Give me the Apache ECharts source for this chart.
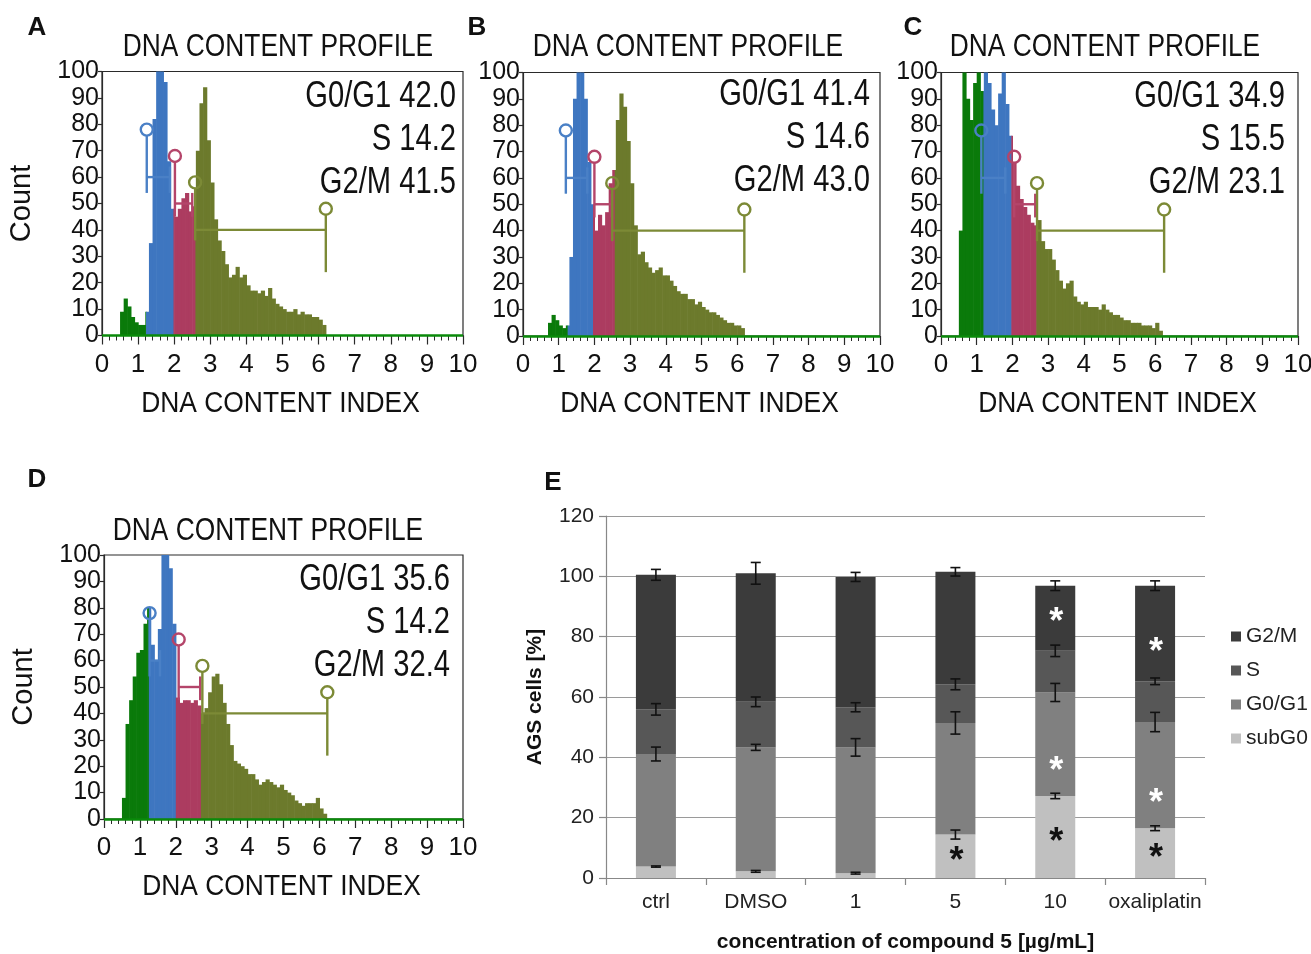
<!DOCTYPE html>
<html>
<head>
<meta charset="utf-8">
<script src="https://cdn.jsdelivr.net/npm/echarts@6/dist/echarts.min.js"></script>
<style>html,body{margin:0;background:#fff}#c{width:1311px;height:954px}</style>
</head>
<body>
<div id="c"></div>
<script>
// histogram bins: first bin starts at 0.5, each bin is 0.1 DNA index wide
const binStart = 0.5;
const binWidth = 0.1;

const countsA = [9, 14, 11, 7, 5, 4, 4, 9, 35, 82, 110, 110, 96, 66, 48,
  45, 48, 52, 54, 47, 49, 70, 88, 94, 74, 58, 44, 36, 32, 27, 22, 23, 26, 22, 23,
  19, 17, 17, 16, 17, 15, 18, 14, 12, 11, 10, 9, 9, 10, 8, 9, 8, 8, 7, 7, 6, 4];
const countsB = [0, 0, 5, 8, 6, 4, 3, 4, 30, 90, 110, 110, 90, 66, 50,
  40, 46, 42, 47, 58, 63, 82, 92, 87, 74, 58, 42, 31, 32, 28, 26, 24, 25, 26, 23,
  23, 21, 19, 17, 16, 16, 14, 14, 12, 13, 11, 10, 9, 9, 8, 7, 6, 5, 5, 4, 4, 3];
const countsC = [40, 104, 90, 82, 96, 102, 93, 100, 96, 86, 80, 92, 104, 88, 76,
  66, 57, 52, 49, 46, 43, 42, 44, 36, 33, 33, 29, 25, 21, 18, 20, 21, 15, 13, 12,
  13, 11, 11, 11, 10, 12, 10, 9, 8, 8, 7, 6, 6, 5, 5, 5, 4, 4, 4, 3, 5, 2];
const countsD = [8, 36, 45, 54, 63, 64, 74, 80, 66, 60, 72, 104, 106, 95, 74,
  46, 44, 45, 45, 44, 45, 43, 40, 42, 48, 54, 55, 51, 44, 36, 28, 22, 21, 20, 19,
  17, 17, 15, 13, 14, 15, 14, 13, 12, 13, 11, 10, 9, 7, 6, 5, 6, 6, 6, 8, 4, 2];

// phase boundaries: subG0 | G0/G1 | S | G2/M
const edgesA = [1.22, 1.98, 2.59];
const edgesB = [1.25, 1.96, 2.57];
const edgesC = [1.19, 1.97, 2.67];
const edgesD = [1.25, 2.0, 2.7];

// gate ranges G0/G1, S, G2/M
const gatesA = [[1.24, 1.88], [2.02, 2.5], [2.58, 6.2]];
const gatesB = [[1.2, 1.8], [2.0, 2.48], [2.5, 6.2]];
const gatesC = [[1.13, 1.8], [2.05, 2.64], [2.69, 6.25]];
const gatesD = [[1.27, 1.56], [2.08, 2.68], [2.74, 6.22]];
const gateLevel = [60, 50, 40];
const gateCircle = [78, 68, 58];
const gateLow = [54, 45, 36];
const gateEndTop = [64, 54, 48];
const gateEndLow = [54, 45, 24];

const phaseNames = ['G0/G1', 'S', 'G2/M'];
const pctA = [42.0, 14.2, 41.5];
const pctB = [41.4, 14.6, 43.0];
const pctC = [34.9, 15.5, 23.1];
const pctD = [35.6, 14.2, 32.4];

// panel E
const groups = ['ctrl', 'DMSO', '1', '5', '10', 'oxaliplatin'];
const subG0 = [3.8, 2.2, 1.6, 14.4, 27.2, 16.5];
const g0g1 = [37.3, 41.1, 41.7, 37.0, 34.3, 35.2];
const sPhase = [14.8, 15.1, 13.3, 12.8, 13.8, 13.5];
const g2m = [44.6, 42.6, 43.2, 37.3, 21.6, 31.7];
const errSub = [0.2, 0.3, 0.3, 1.5, 0.9, 0.8];
const errG0 = [2.3, 1.0, 2.9, 3.7, 3.0, 3.2];
const errS = [1.9, 1.6, 1.5, 1.8, 1.9, 1.1];
const errG2 = [1.8, 3.6, 1.5, 1.4, 1.6, 1.6];
const sigSub = [0, 0, 0, 1, 1, 1];
const sigG0 = [0, 0, 0, 0, 1, 1];
const sigG2 = [0, 0, 0, 0, 1, 1];

const SANS = "'Liberation Sans', Arial, sans-serif";
const phaseColors = ['#0a7a0a', '#3e76c0', '#ac3c60', '#6c7a2c'];
const gateColors = ['#4a80c6', '#b4456a', '#7c8a36'];

const histPanels = [
  {letter: 'A', counts: countsA, edges: edgesA, gates: gatesA, pct: pctA, count: true,
    box: {left: 102, top: 71.5, width: 361, height: 264}, letterPos: [37, 28], title: [278, 47], statsRight: 456, statsTop: 97},
  {letter: 'B', counts: countsB, edges: edgesB, gates: gatesB, pct: pctB, count: false,
    box: {left: 523, top: 72.5, width: 357, height: 263.5}, letterPos: [477, 28], title: [688, 47], statsRight: 870, statsTop: 95},
  {letter: 'C', counts: countsC, edges: edgesC, gates: gatesC, pct: pctC, count: false,
    box: {left: 941, top: 72.5, width: 357, height: 263.5}, letterPos: [913, 28], title: [1105, 47], statsRight: 1285, statsTop: 97},
  {letter: 'D', counts: countsD, edges: edgesD, gates: gatesD, pct: pctD, count: true,
    box: {left: 104, top: 555, width: 359, height: 264}, letterPos: [37, 480], title: [268, 531], statsRight: 450, statsTop: 580}
];

const grids = [], xAxes = [], yAxes = [], series = [], graphics = [];

function label(x, y, text, opt) {
  return {
    type: 'text', x: x, y: y, scaleX: opt.sx || 1, z: 10,
    style: {
      text: text, x: 0, y: 0, fontFamily: SANS, fontSize: opt.size, fontWeight: opt.weight || 'normal', fill: '#111',
      align: opt.align || 'center', verticalAlign: 'middle',
      textAlign: opt.align || 'center', textVerticalAlign: 'middle'
    }
  };
}

function histRender(edges) {
  return function (params, api) {
    const x0 = api.value(0);
    const v = Math.min(api.value(1), 100);
    if (v <= 0) return null;
    const x1 = x0 + binWidth;
    const cuts = [x0].concat(edges.filter(e => e > x0 && e < x1), [x1]);
    const children = [];
    for (let k = 0; k < cuts.length - 1; k++) {
      const mid = (cuts[k] + cuts[k + 1]) / 2;
      let ph = 0;
      edges.forEach(e => { if (mid > e) ph++; });
      const p0 = api.coord([cuts[k], v]);
      const p1 = api.coord([cuts[k + 1], 0]);
      children.push({
        type: 'rect',
        shape: {x: p0[0], y: p0[1], width: p1[0] - p0[0] + 0.6, height: p1[1] - p0[1]},
        style: {fill: phaseColors[ph]}
      });
    }
    return {type: 'group', children: children};
  };
}

function gateRender(params, api) {
  const x1 = api.value(0), x2 = api.value(1), k = api.value(2);
  const col = gateColors[k];
  const r = 6;
  const ls = {stroke: col, lineWidth: 2.4, fill: null};
  const c1 = api.coord([x1, gateCircle[k]]);
  const l1 = api.coord([x1, gateLow[k]]);
  const a = api.coord([x1, gateLevel[k]]);
  const b = api.coord([x2, gateLevel[k]]);
  const t2 = api.coord([x2, gateEndTop[k]]);
  const l2 = api.coord([x2, gateEndLow[k]]);
  const ch = [
    {type: 'circle', shape: {cx: c1[0], cy: c1[1], r: r}, style: ls},
    {type: 'line', shape: {x1: c1[0], y1: c1[1] + r, x2: l1[0], y2: l1[1]}, style: ls},
    {type: 'line', shape: {x1: a[0], y1: a[1], x2: b[0], y2: b[1]}, style: ls}
  ];
  if (k === 2) {
    ch.push({type: 'circle', shape: {cx: t2[0], cy: t2[1], r: r}, style: ls});
    ch.push({type: 'line', shape: {x1: t2[0], y1: t2[1] + r, x2: l2[0], y2: l2[1]}, style: ls});
  } else {
    ch.push({type: 'line', shape: {x1: t2[0], y1: t2[1], x2: l2[0], y2: l2[1]}, style: ls});
  }
  return {type: 'group', children: ch};
}

histPanels.forEach((p, i) => {
  grids.push(Object.assign({show: true, borderColor: '#2a2a2a', borderWidth: 1.2, backgroundColor: 'transparent',
    containLabel: false, outerBoundsMode: 'none'}, p.box));
  xAxes.push({
    gridIndex: i, type: 'value', min: 0, max: 10, interval: 1,
    axisLine: {lineStyle: {color: '#2a2a2a', width: 1.2}},
    axisTick: {length: 9, lineStyle: {color: '#2a2a2a', width: 1.2}},
    minorTick: {show: true, splitNumber: 5, length: 5, lineStyle: {color: '#2a2a2a', width: 1}},
    splitLine: {show: false},
    axisLabel: {fontFamily: SANS, fontSize: 26, color: '#111', margin: 16,
      showMinLabel: true, showMaxLabel: true, hideOverlap: false}
  });
  yAxes.push({
    gridIndex: i, type: 'value', min: 0, max: 100, interval: 10,
    axisLine: {show: true, lineStyle: {color: '#2a2a2a', width: 1.2}},
    axisTick: {show: true, length: 4, lineStyle: {color: '#2a2a2a', width: 1.2}},
    splitLine: {show: false},
    axisLabel: {fontFamily: SANS, fontSize: 25, color: '#111', margin: 3,
      showMinLabel: true, showMaxLabel: true, hideOverlap: false},
    name: p.count ? 'Count' : '', nameLocation: 'middle', nameGap: 66, nameRotate: 90,
    nameTextStyle: {fontFamily: SANS, fontSize: 29, color: '#111'}
  });
  series.push({
    type: 'custom', xAxisIndex: i, yAxisIndex: i, z: 2,
    renderItem: histRender(p.edges),
    data: p.counts.map((v, j) => [binStart + j * binWidth, v]),
    markLine: {silent: true, symbol: 'none', label: {show: false},
      lineStyle: {color: '#0a8a0a', width: 2.5, type: 'solid'}, data: [{yAxis: 0}]}
  });
  series.push({
    type: 'custom', xAxisIndex: i, yAxisIndex: i, z: 3,
    renderItem: gateRender,
    data: p.gates.map((g, k) => [g[0], g[1], k])
  });
  graphics.push(label(p.letterPos[0], p.letterPos[1], p.letter, {size: 26, weight: 'bold'}));
  graphics.push(label(p.title[0], p.title[1], 'DNA CONTENT PROFILE', {size: 31, sx: 0.85}));
  graphics.push(label(p.box.left + p.box.width / 2 - 2, p.box.top + p.box.height + 68, 'DNA CONTENT INDEX', {size: 30, sx: 0.88}));
  p.pct.forEach((v, k) => {
    graphics.push(label(p.statsRight, p.statsTop + k * 43, phaseNames[k] + ' ' + v.toFixed(1),
      {size: 36, sx: 0.81, align: 'right'}));
  });
});

// panel E
const eIdx = histPanels.length;
grids.push({left: 606, top: 516, width: 599, height: 362, containLabel: false, outerBoundsMode: 'none'});
xAxes.push({
  gridIndex: eIdx, type: 'category', data: groups,
  axisLine: {lineStyle: {color: '#888', width: 1.2}},
  axisTick: {show: true, length: 7, lineStyle: {color: '#888', width: 1.2}},
  axisLabel: {fontFamily: SANS, fontSize: 21, color: '#222', margin: 14, interval: 0, hideOverlap: false},
  name: 'concentration of compound 5 [µg/mL]', nameLocation: 'middle', nameGap: 54,
  nameTextStyle: {fontFamily: SANS, fontSize: 21, fontWeight: 'bold', color: '#111'}
});
yAxes.push({
  gridIndex: eIdx, type: 'value', min: 0, max: 120, interval: 20,
  axisLine: {show: true, lineStyle: {color: '#888', width: 1.2}},
  axisTick: {show: true, length: 7, lineStyle: {color: '#888', width: 1.2}},
  splitLine: {lineStyle: {color: '#9a9a9a', width: 1.2}},
  axisLabel: {fontFamily: SANS, fontSize: 21, color: '#222', margin: 12},
  name: 'AGS cells [%]', nameLocation: 'middle', nameGap: 60, nameRotate: 90,
  nameTextStyle: {fontFamily: SANS, fontSize: 21, fontWeight: 'bold', color: '#111'}
});

const stackDefs = [
  {name: 'subG0', data: subG0, err: errSub, sig: sigSub, color: '#c0c0c0', starColor: '#111', pos: 'inside', offset: [1, 6]},
  {name: 'G0/G1', data: g0g1, err: errG0, sig: sigG0, color: '#808080', starColor: '#fff', pos: 'insideBottom', offset: [1, 0], dist: 6},
  {name: 'S', data: sPhase, err: errS, sig: null, color: '#575757', starColor: '#fff', pos: 'inside', offset: [0, 0]},
  {name: 'G2/M', data: g2m, err: errG2, sig: sigG2, color: '#3b3b3b', starColor: '#fff', pos: 'insideBottom', offset: [1, 0], dist: 10}
];

const errData = [];
const cum = groups.map(() => 0);
stackDefs.forEach(d => {
  d.data.forEach((v, j) => {
    cum[j] += v;
    errData.push([j, cum[j], d.err[j]]);
  });
  const sig = d.sig;
  series.push({
    name: d.name, type: 'bar', stack: 'cycle', xAxisIndex: eIdx, yAxisIndex: eIdx,
    barWidth: 40, itemStyle: {color: d.color}, data: d.data, z: 2,
    label: {
      show: !!sig, position: d.pos, offset: d.offset, distance: d.dist || 5,
      formatter: p => (sig && sig[p.dataIndex] ? '*' : ''),
      color: d.starColor, fontFamily: SANS, fontSize: 36, fontWeight: 'bold'
    }
  });
});

series.push({
  type: 'custom', xAxisIndex: eIdx, yAxisIndex: eIdx, z: 5,
  renderItem: function (params, api) {
    const j = api.value(0), top = api.value(1), e = api.value(2);
    const hi = api.coord([j, top + e]);
    const lo = api.coord([j, top - e]);
    const w = 5;
    const st = {stroke: '#111', lineWidth: 1.6};
    return {type: 'group', children: [
      {type: 'line', shape: {x1: hi[0], y1: hi[1], x2: lo[0], y2: lo[1]}, style: st},
      {type: 'line', shape: {x1: hi[0] - w, y1: hi[1], x2: hi[0] + w, y2: hi[1]}, style: st},
      {type: 'line', shape: {x1: lo[0] - w, y1: lo[1], x2: lo[0] + w, y2: lo[1]}, style: st}
    ]};
  },
  data: errData
});

graphics.push(label(553, 483, 'E', {size: 26, weight: 'bold'}));

const chart = echarts.init(document.getElementById('c'), null, {renderer: 'canvas'});
chart.setOption({
  backgroundColor: '#fff',
  animation: false,
  grid: grids,
  xAxis: xAxes,
  yAxis: yAxes,
  legend: {
    data: ['G2/M', 'S', 'G0/G1', 'subG0'], orient: 'vertical', left: 1226, top: 621,
    icon: 'rect', itemWidth: 10, itemHeight: 10, itemGap: 13,
    textStyle: {fontFamily: SANS, fontSize: 21, color: '#222'}
  },
  graphic: graphics,
  series: series
});
</script>
</body>
</html>
